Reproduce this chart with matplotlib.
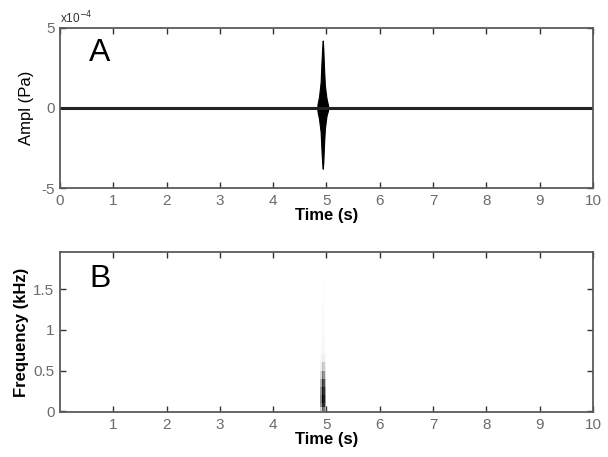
import numpy as np
import matplotlib
matplotlib.use("Agg")
import matplotlib.pyplot as plt

plt.rcParams['font.family'] = ['Liberation Sans', 'DejaVu Sans']

# burst envelope of the pressure trace (x1e-4 Pa)
burst_t = [4.83, 4.86, 4.89, 4.905, 4.92, 4.93, 4.94, 4.955, 4.97, 5.00, 5.03]
burst_hi = [0.2, 0.7, 1.6, 2.8, 3.8, 4.2, 3.7, 2.4, 1.4, 0.6, 0.15]
burst_lo = [-0.2, -0.7, -1.5, -2.6, -3.5, -3.8, -3.4, -2.2, -1.3, -0.5, -0.15]

# spectrogram: time-bin edges (s), frequency-bin edges (kHz), gray level
spec_t = [4.88, 4.91, 4.94, 4.97, 5.00]
spec_f = [0.0, 0.05, 0.1, 0.2, 0.3, 0.4, 0.5, 0.6, 0.7, 0.9, 1.1, 1.3, 1.5, 1.65]
spec_level = [
    [0.30, 0.70, 0.60, 0.30],
    [0.50, 0.90, 0.85, 0.45],
    [0.55, 1.00, 0.90, 0.50],
    [0.50, 0.95, 0.85, 0.45],
    [0.40, 0.85, 0.75, 0.35],
    [0.25, 0.60, 0.50, 0.22],
    [0.12, 0.35, 0.30, 0.10],
    [0.05, 0.15, 0.12, 0.04],
    [0.02, 0.08, 0.06, 0.02],
    [0.01, 0.05, 0.04, 0.01],
    [0.00, 0.04, 0.03, 0.00],
    [0.00, 0.03, 0.02, 0.00],
    [0.00, 0.02, 0.01, 0.00],
]

top_ticks = [0, 1, 2, 3, 4, 5, 6, 7, 8, 9, 10]
bot_ticks = [1, 2, 3, 4, 5, 6, 7, 8, 9, 10]
freq_ticks = [0, 0.5, 1, 1.5]

tick_col = '#6a6a6a'
spine_col = '#5a5a5a'

fig = plt.figure(figsize=(6.08, 4.57), dpi=100)
ax1 = fig.add_axes([0.0987, 0.5886, 0.8766, 0.3508])
ax2 = fig.add_axes([0.0987, 0.0985, 0.8766, 0.3501])


def style(ax):
    for s in ax.spines.values():
        s.set_color(spine_col)
        s.set_linewidth(1.3)
    ax.tick_params(direction='in', top=True, right=True, length=4, width=1,
                   color='#333333', labelcolor=tick_col, labelsize=11, pad=4)


# panel A: pressure trace
ax1.plot([0, 10], [0, 0], color='#222222', lw=2.2)
ax1.fill_between(burst_t, np.array(burst_lo) * 1e-4, np.array(burst_hi) * 1e-4,
                 color='black', lw=0.8, edgecolor='black')
ax1.set_xlim(0, 10)
ax1.set_ylim(-5e-4, 5e-4)
ax1.set_xticks(top_ticks)
ax1.set_yticks([-5e-4, 0, 5e-4])
ax1.set_yticklabels(['-5', '0', '5'])
ax1.set_xlabel('Time (s)', fontsize=12, fontweight='bold', labelpad=0)
ax1.set_ylabel('Ampl (Pa)', fontsize=12, labelpad=5)
ax1.text(0.0, 1.01, 'x10$^{-4}$', transform=ax1.transAxes, fontsize=8.5,
         color='#333333', va='bottom', ha='left')
ax1.text(0.55, 3.4e-4, 'A', fontsize=23, va='center', ha='left')
style(ax1)

# panel B: spectrogram
ax2.pcolormesh(spec_t, spec_f, np.array(spec_level), cmap='Greys',
               vmin=0, vmax=1, shading='flat')
ax2.set_xlim(0, 10)
ax2.set_ylim(-0.01, 1.96)
ax2.set_xticks(bot_ticks)
ax2.set_yticks(freq_ticks)
ax2.set_yticklabels(['0', '0.5', '1', '1.5'])
ax2.set_xlabel('Time (s)', fontsize=12, fontweight='bold', labelpad=0)
ax2.set_ylabel('Frequency (kHz)', fontsize=12, fontweight='bold', labelpad=3)
ax2.text(0.55, 1.63, 'B', fontsize=23, va='center', ha='left')
style(ax2)

fig.savefig('out.png', dpi=100)
